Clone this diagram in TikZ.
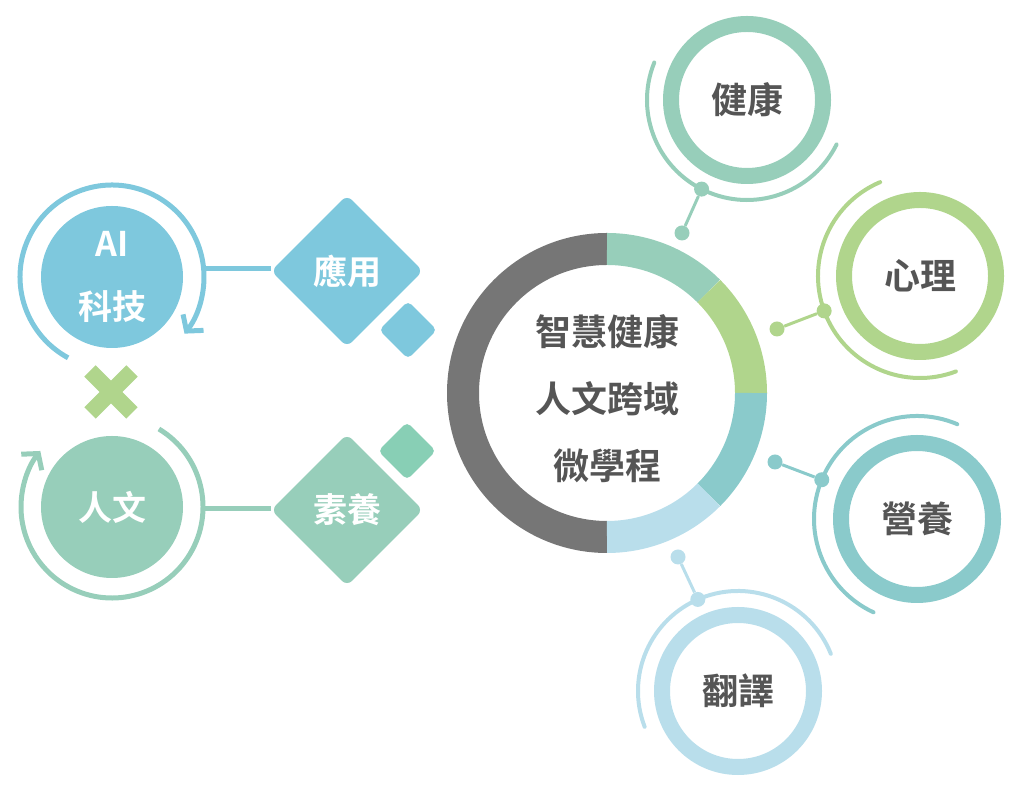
\documentclass[tikz,border=0pt]{standalone}
\usepackage{fontspec}
\setmainfont{Noto Sans CJK TC}[BoldFont={Noto Sans CJK TC Bold}]
\usepackage{tikz}
\usetikzlibrary{shapes.geometric,arrows.meta,positioning,calc}
\usepackage{xcolor}

\definecolor{aiblue}{HTML}{7EC8DD}
\definecolor{humgreen}{HTML}{97CEBA}
\definecolor{psygreen}{HTML}{B0D58C}
\definecolor{nutteal}{HTML}{8ACACB}
\definecolor{tranblue}{HTML}{B9DEEB}
\definecolor{hubgray}{HTML}{767676}
\definecolor{txtgray}{HTML}{555555}
\definecolor{chipgreen}{HTML}{88CFB5}

\tikzset{
  ring/.style={draw=#1, circle, line width=16pt, minimum size=152pt, inner sep=0pt,
    text=txtgray, font=\bfseries\fontsize{36}{40}\selectfont},
  orbit/.style={draw=#1, line width=4pt, line cap=round},
  dot/.style={circle, fill=#1, minimum size=15pt, inner sep=0pt},
  blob/.style={circle, fill=#1, minimum size=142pt, inner sep=0pt, text=white,
    align=center, font=\bfseries\fontsize{34}{63}\selectfont},
  gem/.style={diamond, fill=#1, minimum size=152pt, inner sep=0pt, rounded corners=7pt,
    text=white, font=\bfseries\fontsize{34}{40}\selectfont},
  chip/.style={diamond, fill=#1, minimum size=58pt, inner sep=0pt, rounded corners=5pt},
  loop/.style={draw=#1, line width=5pt, -{Straight Barb[length=11pt, width=26pt]}},
}

\begin{document}
\begin{tikzpicture}[x=1pt, y=1pt]
            \useasboundingbox (0,0) rectangle (1024,799);

            % Center ring
            \coordinate (core) at (607,406);
            \draw[hubgray, line width=32pt] ($(core)+(90:144)$) arc[start angle=90, end angle=270, radius=144];
            \draw[humgreen, line width=32pt] ($(core)+(90:144)$) arc[start angle=90, end angle=45, radius=144];
            \draw[psygreen, line width=32pt] ($(core)+(45:144)$) arc[start angle=45, end angle=0, radius=144];
            \draw[nutteal, line width=32pt] ($(core)+(0:144)$) arc[start angle=0, end angle=-45, radius=144];
            \draw[tranblue, line width=32pt] ($(core)+(-45:144)$) arc[start angle=-45, end angle=-90, radius=144];
            \node[align=center, text=txtgray, font=\bfseries\fontsize{36}{67}\selectfont] (hub) at (607,400) {智慧健康\\人文跨域\\微學程};

            % Health
            \node[ring=humgreen] (health) at (747,699) {健康};
            \draw[orbit=humgreen] ($(health)+(158:100)$) arc[start angle=158, end angle=333.6, radius=100];
            \node[dot=humgreen] (healthA) at ($(health)+(243:100)$) {};
            \node[dot=humgreen] (healthB) at (682,566) {};
            \draw[humgreen, line width=3pt] (healthA) -- (healthB);

            % Psychology
            \node[ring=psygreen] (psy) at (920,523) {心理};
            \draw[orbit=psygreen] ($(psy)+(113:102)$) arc[start angle=113, end angle=290.6, radius=102];
            \node[dot=psygreen] (psyA) at ($(psy)+(200:102)$) {};
            \node[dot=psygreen] (psyB) at (777,470) {};
            \draw[psygreen, line width=3pt] (psyA) -- (psyB);

            % Nutrition
            \node[ring=nutteal] (nut) at (917,280) {營養};
            \draw[orbit=nutteal] ($(nut)+(67:103)$) arc[start angle=67, end angle=245, radius=103];
            \node[dot=nutteal] (nutA) at ($(nut)+(157.6:103)$) {};
            \node[dot=nutteal] (nutB) at (775,337) {};
            \draw[nutteal, line width=3pt] (nutA) -- (nutB);

            % Translation
            \node[ring=tranblue] (tran) at (738,108) {翻譯};
            \draw[orbit=tranblue] ($(tran)+(21.8:100)$) arc[start angle=21.8, end angle=201, radius=100];
            \node[dot=tranblue] (tranA) at ($(tran)+(113.7:100)$) {};
            \node[dot=tranblue] (tranB) at (678,242) {};
            \draw[tranblue, line width=3pt] (tranA) -- (tranB);

            % AI branch
            \node[blob=aiblue] (ai) at (112,522) {AI\\科技};
            \draw[loop=aiblue] ($(ai)+(241.5:92)$) arc[start angle=241.5, end angle=-38, radius=92];
            \node[gem=aiblue] (app) at (347,528) {應用};
            \coordinate (aiR) at ($(ai)+(5:92)$);
            \draw[aiblue, line width=5pt] (aiR) -- (aiR -| app.west);
            \node[chip=aiblue] (appchip) at (408,469) {};

            % Cross
            \coordinate (cross) at (111,407);
            \draw[psygreen, line width=16pt] ($(cross)+(-21,-21)$) -- ($(cross)+(21,21)$);
            \draw[psygreen, line width=16pt] ($(cross)+(-21,21)$) -- ($(cross)+(21,-21)$);

            % Humanities branch
            \node[blob=humgreen] (hum) at (112,292) {人文};
            \draw[loop=humgreen] ($(hum)+(59:91)$) arc[start angle=59, end angle=-218, radius=91];
            \node[gem=humgreen] (lit) at (347,289) {素養};
            \coordinate (humR) at ($(hum)+(-1:91)$);
            \draw[humgreen, line width=5pt] (humR) -- (humR -| lit.west);
            \node[chip=chipgreen] (litchip) at (407,348) {};
        \end{tikzpicture}
\end{document}
